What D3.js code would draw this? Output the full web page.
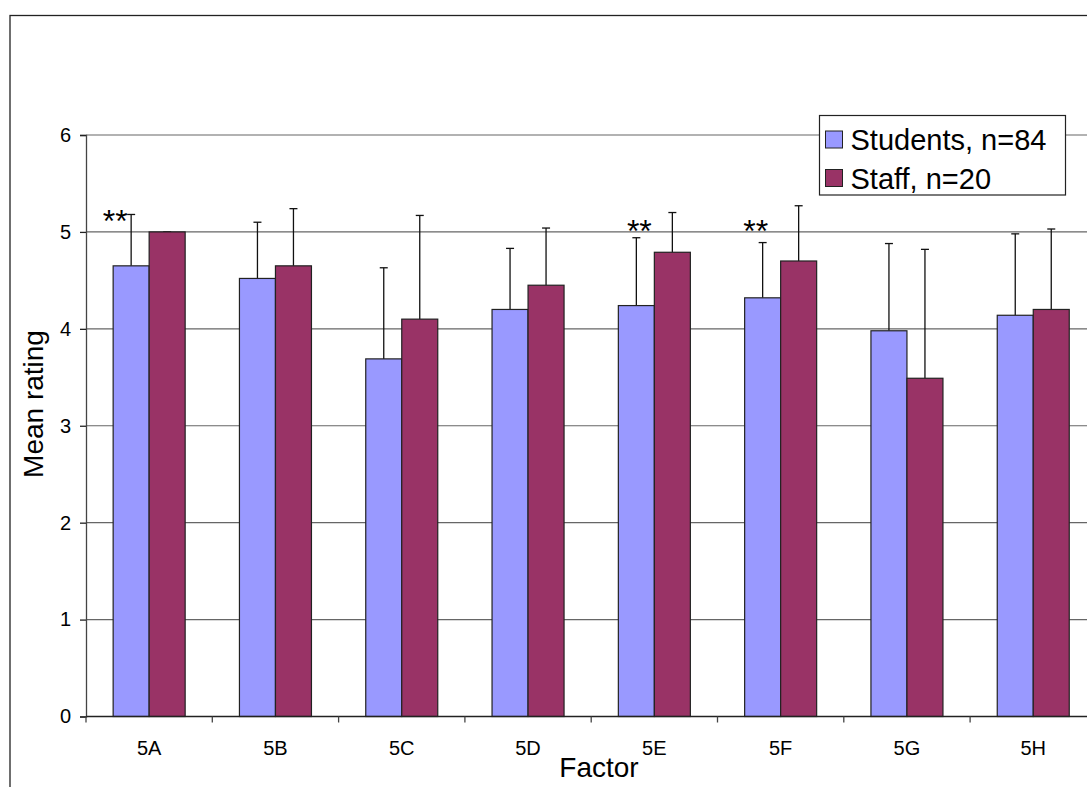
<!DOCTYPE html>
<html>
<head>
<meta charset="utf-8">
<script src="https://d3js.org/d3.v7.min.js"></script>
<style>
  body { margin: 0; background: #fff; }
  svg { display: block; font-family: "Liberation Sans", Arial, sans-serif; }
</style>
</head>
<body>
<svg id="chart" width="1087" height="787"></svg>
<script>
// data
var categories = ["5A", "5B", "5C", "5D", "5E", "5F", "5G", "5H"];
var seriesNames = ["Students, n=84", "Staff, n=20"];
var studentMeans = [4.65, 4.52, 3.69, 4.20, 4.24, 4.32, 3.98, 4.14];
var studentErr   = [0.53, 0.58, 0.94, 0.63, 0.70, 0.57, 0.90, 0.84];
var staffMeans   = [5.00, 4.65, 4.10, 4.45, 4.79, 4.70, 3.49, 4.20];
var staffErr     = [0.00, 0.59, 1.07, 0.59, 0.41, 0.57, 1.33, 0.83];
var yTicks = [0, 1, 2, 3, 4, 5, 6];
var sigCats = ["5A", "5E", "5F"];
var sigY = [5.0, 4.9, 4.9];
var sigDx = [-16, 3, -7];

var colors = ["#9999ff", "#993366"];

var svg = d3.select("#chart");

// outer chart frame (runs off the right and bottom edges)
svg.append("rect")
  .attr("x", 10).attr("y", 15.5)
  .attr("width", 1200).attr("height", 900)
  .attr("fill", "none")
  .attr("stroke", "#222")
  .attr("stroke-width", 1.3);

var plotLeft = 86, plotTop = 135, plotBottom = 716.5;
var step = 126.3;

var x0 = d3.scaleBand()
  .domain(categories)
  .range([plotLeft, plotLeft + step * categories.length])
  .padding(0);

var x1 = d3.scaleBand()
  .domain(seriesNames)
  .range([0, x0.bandwidth()])
  .paddingInner(0)
  .paddingOuter(0.754);

var y = d3.scaleLinear().domain([0, 6]).range([plotBottom, plotTop]);

// gridlines
svg.append("g")
  .selectAll("line")
  .data(yTicks.filter(function(d) { return d > 0; }))
  .join("line")
  .attr("x1", plotLeft).attr("x2", 1087)
  .attr("y1", function(d) { return y(d); })
  .attr("y2", function(d) { return y(d); })
  .attr("stroke", "#666")
  .attr("stroke-width", 1.2);

// y axis
var yAxis = svg.append("g")
  .attr("transform", "translate(" + plotLeft + ",0)")
  .call(d3.axisLeft(y).tickValues(yTicks).tickFormat(d3.format("d")).tickSize(6).tickPadding(9));
yAxis.select(".domain").attr("stroke", "#444").attr("stroke-width", 1.3);
yAxis.selectAll(".tick line").attr("stroke", "#222").attr("stroke-width", 1.3);
yAxis.selectAll("text").attr("font-size", 20).attr("fill", "#000")
  .attr("font-family", "'Liberation Sans', Arial, sans-serif");

// bars
var rows = categories.map(function(c, i) {
  return [
    { cat: c, s: seriesNames[0], v: studentMeans[i], e: studentErr[i], k: 0 },
    { cat: c, s: seriesNames[1], v: staffMeans[i], e: staffErr[i], k: 1 }
  ];
});
var flat = d3.merge(rows);

// error bars (upper only), drawn behind bars
var eb = svg.append("g").selectAll("g").data(flat).join("g")
  .attr("transform", function(d) {
    return "translate(" + (x0(d.cat) + x1(d.s) + x1.bandwidth() / 2) + ",0)";
  });
eb.append("line")
  .attr("x1", 0).attr("x2", 0)
  .attr("y1", function(d) { return y(d.v); })
  .attr("y2", function(d) { return y(d.v + d.e); })
  .attr("stroke", "#111").attr("stroke-width", 1.3);
eb.append("line")
  .attr("x1", -4).attr("x2", 4)
  .attr("y1", function(d) { return y(d.v + d.e); })
  .attr("y2", function(d) { return y(d.v + d.e); })
  .attr("stroke", "#111").attr("stroke-width", 1.3);

svg.append("g").selectAll("rect").data(flat).join("rect")
  .attr("x", function(d) { return x0(d.cat) + x1(d.s); })
  .attr("y", function(d) { return y(d.v); })
  .attr("width", x1.bandwidth())
  .attr("height", function(d) { return y(0) - y(d.v); })
  .attr("fill", function(d) { return colors[d.k]; })
  .attr("stroke", "#222")
  .attr("stroke-width", 1.2);

// x axis
svg.append("line")
  .attr("x1", plotLeft).attr("x2", 1087)
  .attr("y1", plotBottom).attr("y2", plotBottom)
  .attr("stroke", "#222").attr("stroke-width", 1.3);
svg.append("g").selectAll("line")
  .data(categories.map(function(c) { return x0(c); }))
  .join("line")
  .attr("x1", function(d) { return d; }).attr("x2", function(d) { return d; })
  .attr("y1", plotBottom).attr("y2", plotBottom + 6)
  .attr("stroke", "#444").attr("stroke-width", 1.3);
svg.append("g").selectAll("text").data(categories).join("text")
  .attr("x", function(d) { return x0(d) + x0.bandwidth() / 2; })
  .attr("y", 755)
  .attr("text-anchor", "middle")
  .attr("font-size", 20)
  .text(function(d) { return d; });

// significance marks
svg.append("g").selectAll("text").data(sigCats).join("text")
  .attr("x", function(d, i) {
    return x0(d) + x1(seriesNames[0]) + x1.bandwidth() / 2 + sigDx[i];
  })
  .attr("y", function(d, i) { return y(sigY[i]); })
  .attr("text-anchor", "middle")
  .attr("font-size", 32)
  .text("**");

// axis titles
svg.append("text")
  .attr("transform", "translate(43,404) rotate(-90)")
  .attr("text-anchor", "middle")
  .attr("font-size", 28)
  .text("Mean rating");
svg.append("text")
  .attr("x", 599).attr("y", 777)
  .attr("text-anchor", "middle")
  .attr("font-size", 28)
  .text("Factor");

// legend
var lg = svg.append("g").attr("transform", "translate(819.5,115.5)");
lg.append("rect")
  .attr("width", 246).attr("height", 79.5)
  .attr("fill", "#fff").attr("stroke", "#222").attr("stroke-width", 1.2);
var item = lg.selectAll("g").data(seriesNames).join("g")
  .attr("transform", function(d, i) { return "translate(6," + (15.5 + i * 38.5) + ")"; });
item.append("rect")
  .attr("width", 17).attr("height", 17)
  .attr("fill", function(d, i) { return colors[i]; })
  .attr("stroke", "#222").attr("stroke-width", 1);
item.append("text")
  .attr("x", 25).attr("y", 19)
  .attr("font-size", 29)
  .text(function(d) { return d; });
</script>
</body>
</html>
